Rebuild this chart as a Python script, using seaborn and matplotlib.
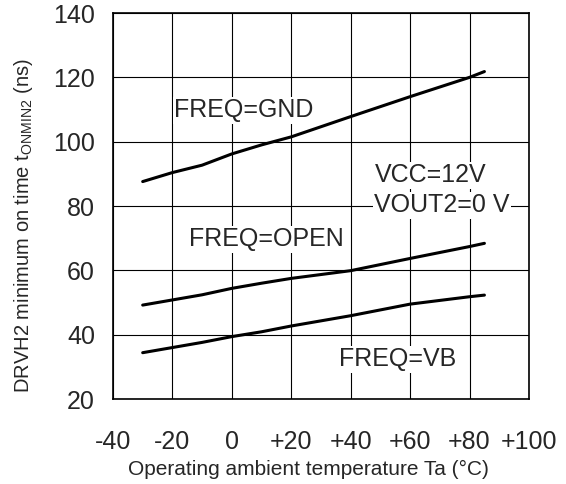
import pandas as pd
import matplotlib
matplotlib.use("Agg")
import matplotlib.pyplot as plt
import seaborn as sns

# Data
temp = [-30, -20, -10, 0, 10, 20, 40, 60, 80, 85]
freq_gnd = [87.6, 90.4, 92.7, 96.2, 99.0, 101.5, 107.8, 114.0, 120.0, 121.8]
freq_open = [49.2, 50.8, 52.4, 54.4, 56.0, 57.5, 59.9, 63.7, 67.4, 68.4]
freq_vb = [34.4, 36.0, 37.6, 39.4, 40.9, 42.7, 45.9, 49.5, 51.8, 52.3]

x_ticks = [-40, -20, 0, 20, 40, 60, 80, 100]
x_tick_labels = ['-40', '-20', '0', '+20', '+40', '+60', '+80', '+100']
y_ticks = [20, 40, 60, 80, 100, 120, 140]

sns.set_style("white")
plt.rcParams['font.family'] = ['Liberation Sans', 'DejaVu Sans']
plt.rcParams['mathtext.fontset'] = 'custom'
plt.rcParams['mathtext.rm'] = 'Liberation Sans'

df = pd.DataFrame({
    'Temp': temp * 3,
    'Value': freq_gnd + freq_open + freq_vb,
    'Series': ['GND'] * len(temp) + ['OPEN'] * len(temp) + ['VB'] * len(temp),
})

fig = plt.figure(figsize=(5.66, 4.84), dpi=100)
ax = fig.add_axes([0.1996, 0.1756, 0.735, 0.7975])

sns.lineplot(data=df, x='Temp', y='Value', units='Series', estimator=None,
             color='black', linewidth=2.2, ax=ax, legend=False)

ax.set_xlim(-40, 100)
ax.set_ylim(20, 140)
ax.set_xticks(x_ticks)
ax.set_xticklabels(x_tick_labels)
ax.set_yticks(y_ticks)
ax.grid(True, color='black', linewidth=0.8)
ax.set_axisbelow(True)
for s in ax.spines.values():
    s.set_color('black')
    s.set_linewidth(1.2)
fs = 18
ax.tick_params(axis='x', length=0, pad=22, labelsize=fs)
ax.tick_params(axis='y', length=0, pad=13, labelsize=fs)

ax.set_xlabel('Operating ambient temperature Ta (°C)', fontsize=15)
ax.set_ylabel(r'DRVH2 minimum on time t$_{\mathrm{ONMIN2}}$ (ns)', fontsize=14.5)
ax.xaxis.set_label_coords(0.47, -0.183)
ax.yaxis.set_label_coords(-0.215, 0.45)
ax.xaxis.label.set_va('center')
ax.yaxis.label.set_va('center')

box = dict(facecolor='white', edgecolor='none', pad=1)
ax.text(-19.3, 109.8, 'FREQ=GND', fontsize=fs, va='center', ha='left', bbox=box)
ax.text(-14.3, 69.7, 'FREQ=OPEN', fontsize=fs, va='center', ha='left', bbox=box)
ax.text(36.2, 32.3, 'FREQ=VB', fontsize=fs, va='center', ha='left', bbox=box)
ax.text(48, 89.6, 'VCC=12V', fontsize=fs, va='center', ha='left', bbox=box)
ax.text(48, 80.3, 'VOUT2=0 V', fontsize=fs, va='center', ha='left', bbox=box)

fig.savefig('out.png', dpi=100)
